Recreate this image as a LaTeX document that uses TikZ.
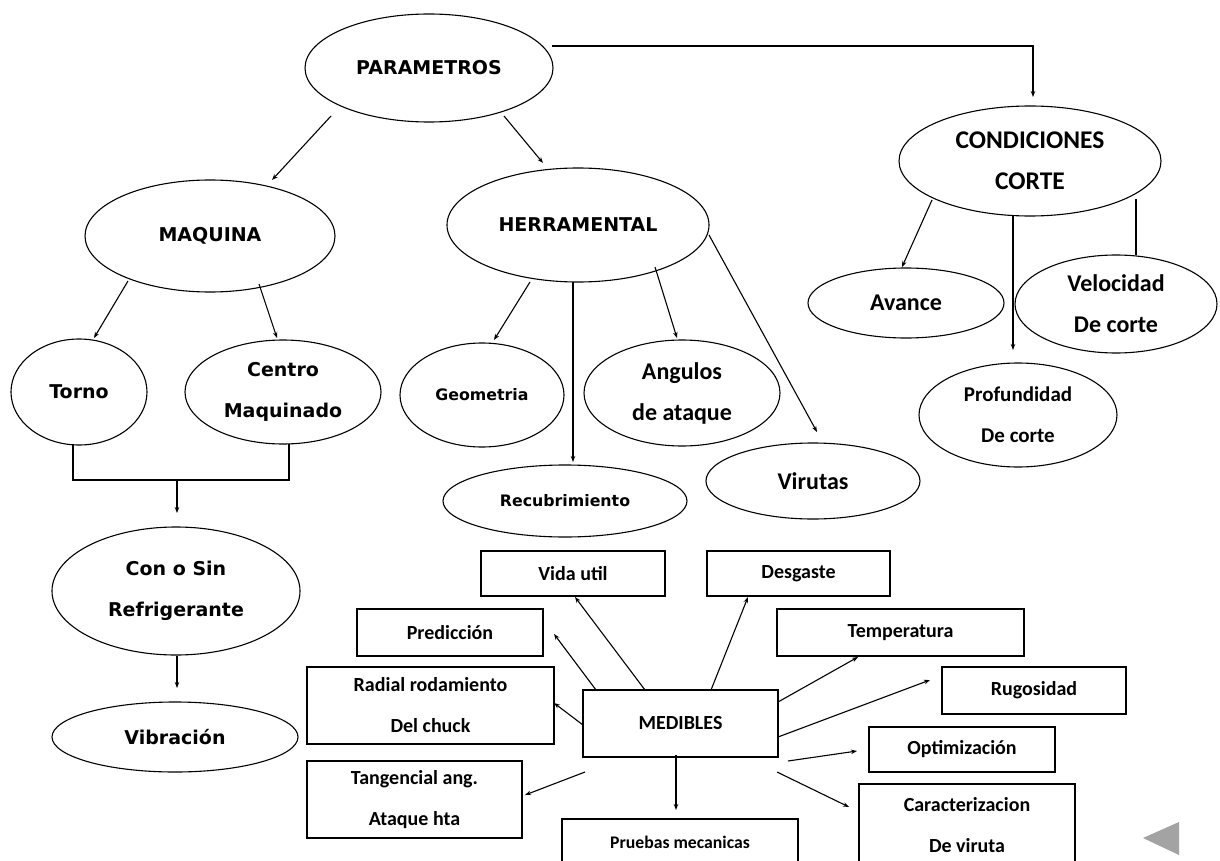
\documentclass[tikz,border=0pt]{standalone}
\usepackage{fontspec}
\usetikzlibrary{shapes.geometric,arrows.meta,calc}
\newfontfamily\fTah{DejaVu Sans}
\newfontfamily\fCal{Carlito}
\definecolor{tri}{RGB}{163,163,163}
\tikzset{
  ell/.style={draw, ellipse, inner sep=0pt, line width=1.1pt, align=center},
  bx/.style={draw, rectangle, inner sep=0pt, line width=1.1pt, align=center,
    font=\fCal\bfseries\fontsize{20}{41}\selectfont},
  tahA/.style={font=\fTah\bfseries\fontsize{19}{41}\selectfont},
  tahB/.style={font=\fTah\bfseries\fontsize{15.8}{41}\selectfont},
  calA/.style={font=\fCal\bfseries\fontsize{24}{41}\selectfont},
  calB/.style={font=\fCal\bfseries\fontsize{21}{41}\selectfont},
  link/.style={line width=1.1pt},
  arr/.style={link, -{Stealth[length=6pt,width=4.5pt]}}
}
\begin{document}
\begin{tikzpicture}[x=1pt,y=-1pt]
\useasboundingbox (0,0) rectangle (1220,861);
\fill[white] (0,0) rectangle (1220,861);
\clip (0,0) rectangle (1220,861);

% --- upper tree: ellipses ---
\node[ell,tahA,minimum width=248pt,minimum height=108pt] (param) at (429,68) {PARAMETROS};
\node[ell,tahA,minimum width=250pt,minimum height=112pt] (maq) at (210,236) {MAQUINA};
\node[ell,tahA,minimum width=262pt,minimum height=114pt] (herr) at (578,225) {HERRAMENTAL};
\node[ell,font=\fCal\bfseries\fontsize{25.5}{41}\selectfont,minimum width=262pt,minimum height=110pt] (cond) at (1030,161) {CONDICIONES\\CORTE};
\node[ell,tahA,minimum width=136pt,minimum height=106pt] (torno) at (79,392) {Torno};
\node[ell,tahA,minimum width=196pt,minimum height=104pt] (centro) at (283,392) {Centro\\Maquinado};
\node[ell,tahB,minimum width=164pt,minimum height=104pt] (geom) at (482,395) {Geometria};
\node[ell,calA,minimum width=196pt,minimum height=106pt] (ang) at (682,393) {Angulos\\de ataque};
\node[ell,tahB,minimum width=244pt,minimum height=72pt] (recub) at (565,501) {Recubrimiento};
\node[ell,calA,minimum width=214pt,minimum height=76pt] (virutas) at (813,481) {Virutas};
\node[ell,calA,minimum width=196pt,minimum height=70pt] (avance) at (906,303) {Avance};
\node[ell,calA,minimum width=202pt,minimum height=98pt] (veloc) at (1116,304) {Velocidad\\De corte};
\node[ell,calB,minimum width=198pt,minimum height=104pt] (prof) at (1018,415) {Profundidad\\De corte};
\node[ell,tahA,minimum width=248pt,minimum height=128pt] (refrig) at (176,591) {Con o Sin\\Refrigerante};
\node[ell,tahA,minimum width=246pt,minimum height=70pt] (vib) at (175,737) {Vibración};

% --- measurable quantities: boxes ---
\node[bx,minimum width=184pt,minimum height=45pt] (vida) at (573,573.5) {Vida util};
\node[bx,minimum width=183pt,minimum height=45pt] (desg) at (798.5,573.5) {Desgaste};
\node[bx,minimum width=186pt,minimum height=47pt] (pred) at (450,632.5) {Predicción};
\node[bx,minimum width=247pt,minimum height=47pt] (temp) at (900.5,632.5) {Temperatura};
\node[bx,minimum width=247pt,minimum height=77pt] (radial) at (430.5,705.5) {Radial rodamiento\\Del chuck};
\node[bx,minimum width=195pt,minimum height=67pt] (med) at (680.5,723.5) {MEDIBLES};
\node[bx,minimum width=184pt,minimum height=47pt] (rug) at (1034,690.5) {Rugosidad};
\node[bx,minimum width=186pt,minimum height=45pt] (optim) at (962,749.5) {Optimización};
\node[bx,minimum width=215pt,minimum height=77pt] (tang) at (414.5,799.5) {Tangencial ang.\\Ataque hta};
\node[bx,font=\fCal\bfseries\fontsize{17.7}{41}\selectfont,minimum width=236pt,minimum height=46pt] (pruebas) at (680,842) {Pruebas mecanicas};
\node[bx,minimum width=216pt,minimum height=82pt] (caract) at (967,825) {Caracterizacion\\De viruta};

% --- connectors of the upper tree ---
\draw[arr] ($(param)+(123,-22)$) -| ($(cond)+(3,-64)$);
\draw[arr] ($(param)+(-98,48)$) -- ($(maq)+(62,-56)$);
\draw[arr] ($(param)+(75,48)$) -- ($(herr)+(-35,-62)$);
\draw[arr] ($(maq)+(-82,45)$) -- ($(torno)+(15,-54)$);
\draw[arr] ($(maq)+(49,48)$) -- ($(centro)+(-6,-54)$);
\draw[link] ($(torno)+(-6,52)$) |- ($(centro)+(6,88)$) -- ($(centro)+(6,52)$);
\draw[arr] ($(refrig)+(1,-111)$) -- ($(refrig)+(1,-78)$);
\draw[arr] ($(refrig)+(1,65)$) -- ($(vib)+(2,-49)$);
\draw[arr] ($(herr)+(-48,57)$) -- ($(geom)+(12,-55)$);
\draw[arr] ($(herr)+(-5,57)$) -- ($(recub)+(8,-39)$);
\draw[arr] ($(herr)+(77,42)$) -- ($(ang)+(-5,-55)$);
\draw[arr] ($(herr)+(131,10)$) -- ($(virutas)+(4,-49)$);
\draw[arr] ($(cond)+(-98,39)$) -- ($(avance)+(-4,-36)$);
\draw[arr] ($(cond)+(-17,55)$) -- ($(prof)+(-5,-65)$);
\draw[link] ($(cond)+(106,38)$) -- ($(veloc)+(20,-49)$);

% --- connectors from MEDIBLES ---
\draw[arr] ($(med)+(-35.5,-33.5)$) -- ($(vida)+(2,23.5)$);
\draw[arr] ($(med)+(30.5,-33.5)$) -- ($(desg)+(-50.5,23.5)$);
\draw[arr] ($(med)+(-84.5,-33.5)$) -- ($(pred)+(104,1.5)$);
\draw[arr] ($(med)+(-97.5,1.5)$) -- ($(radial)+(123.5,-2.5)$);
\draw[arr] ($(med)+(-95.5,48.5)$) -- ($(tang)+(110.5,-4.5)$);
\draw[arr] ($(med)+(-4.5,31.5)$) -- ($(pruebas)+(-4,-32)$);
\draw[arr] ($(med)+(97.5,-21.5)$) -- ($(temp)+(-42.5,24.5)$);
\draw[arr] ($(med)+(97.5,13.5)$) -- ($(rug)+(-104,-10.5)$);
\draw[arr] ($(med)+(107.5,37.5)$) -- ($(optim)+(-105,1.5)$);
\draw[arr] ($(med)+(96.5,48.5)$) -- ($(caract)+(-118,-18)$);

% --- navigation marker ---
\fill[tri] (1143,838) -- (1179,822) -- (1179,855) -- cycle;
\end{tikzpicture}
\end{document}
